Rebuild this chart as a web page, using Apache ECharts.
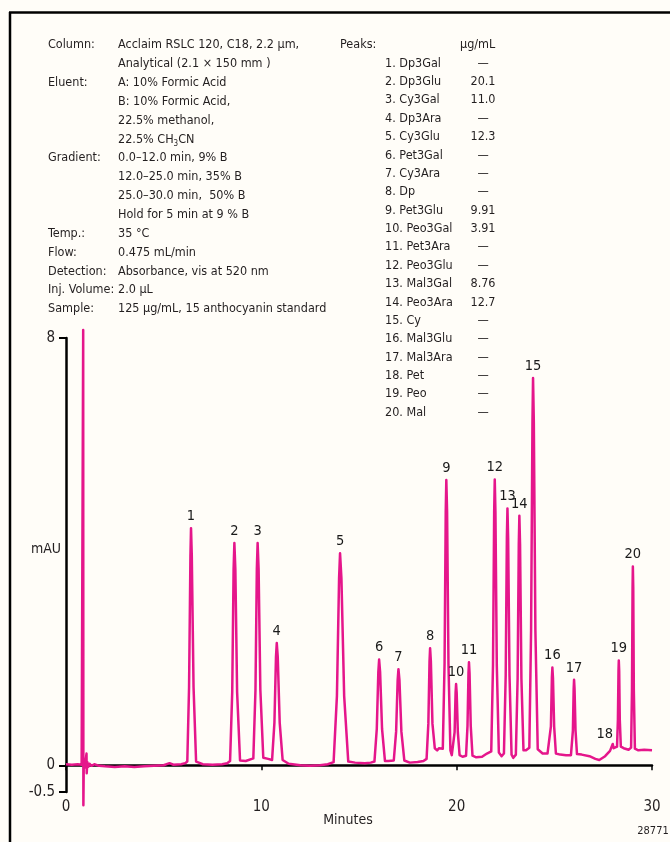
<!DOCTYPE html>
<html>
<head>
<meta charset="utf-8">
<script src="https://cdn.jsdelivr.net/npm/echarts@6/dist/echarts.min.js"></script>
<style>
  html, body { margin: 0; padding: 0; background: #fffdf8; }
  #chart { width: 670px; height: 842px; }
</style>
</head>
<body>
<div id="chart"></div>
<script>
// Chromatographic conditions (left column)
const infoLabels = ['Column:', '', 'Eluent:', '', '', '', 'Gradient:', '', '', '', 'Temp.:', 'Flow:', 'Detection:', 'Inj. Volume:', 'Sample:'];
const infoValues = [
  'Acclaim RSLC 120, C18, 2.2 µm,',
  'Analytical (2.1 × 150 mm )',
  'A: 10% Formic Acid',
  'B: 10% Formic Acid,',
  '22.5% methanol,',
  '22.5% CH{sub|3}CN',
  '0.0–12.0 min, 9% B',
  '12.0–25.0 min, 35% B',
  '25.0–30.0 min,  50% B',
  'Hold for 5 min at 9 % B',
  '35 °C',
  '0.475 mL/min',
  'Absorbance, vis at 520 nm',
  '2.0 µL',
  '125 µg/mL, 15 anthocyanin standard'
];

// Peak table
const peakNames = ['Dp3Gal', 'Dp3Glu', 'Cy3Gal', 'Dp3Ara', 'Cy3Glu', 'Pet3Gal', 'Cy3Ara', 'Dp', 'Pet3Glu', 'Peo3Gal',
  'Pet3Ara', 'Peo3Glu', 'Mal3Gal', 'Peo3Ara', 'Cy', 'Mal3Glu', 'Mal3Ara', 'Pet', 'Peo', 'Mal'];
const peakConc = ['—', '20.1', '11.0', '—', '12.3', '—', '—', '—', '9.91', '3.91',
  '—', '—', '8.76', '12.7', '—', '—', '—', '—', '—', '—'];

// Peak apexes: retention time (min) and absorbance (mAU)
const peakTimes = [6.40, 8.62, 9.81, 10.79, 14.03, 16.03, 17.02, 18.64, 19.47, 19.97,
  20.63, 21.95, 22.60, 23.21, 23.91, 24.90, 26.01, 27.99, 28.30, 29.02];
const peakHeights = [4.44, 4.16, 4.16, 2.29, 3.97, 1.98, 1.80, 2.19, 5.34, 1.52,
  1.93, 5.35, 4.81, 4.67, 7.25, 1.83, 1.60, 0.40, 1.96, 3.72];

// Axis tick values
const xTicks = [0, 10, 20, 30];
const yTicks = [-0.5, 0, 8];

// Detector trace [time (min), signal (mAU)]
const trace = [
  [0, 0.02], [0.3, 0.01], [0.6, 0.02], [0.8, 0.01], [0.87, 0.02], [0.88, 8.15], [0.89, -0.75], [0.91, 0.06],
  [0.95, -0.04], [0.99, 0.05], [1.05, 0.22], [1.06, -0.15], [1.09, 0.06], [1.14, -0.03], [1.2, 0.03],
  [1.3, -0.01], [1.45, 0.02], [1.7, -0.01], [2.0, -0.02], [2.5, -0.03], [3.0, -0.02], [3.5, -0.03],
  [4.0, -0.02], [4.5, -0.01], [5.0, 0.0], [5.3, 0.04], [5.5, 0.01], [5.9, 0.02], [6.1, 0.04],
  // 1
  [6.21, 0.07], [6.30, 1.46], [6.37, 3.92], [6.40, 4.44], [6.44, 3.92], [6.53, 1.46], [6.66, 0.07],
  [6.8, 0.05], [7.0, 0.02], [7.5, 0.01], [8.0, 0.02], [8.25, 0.04],
  // 2
  [8.40, 0.08], [8.51, 1.37], [8.58, 3.67], [8.62, 4.16], [8.67, 3.67], [8.76, 1.37], [8.91, 0.09],
  [9.2, 0.08],
  // 3
  [9.59, 0.13], [9.70, 1.41], [9.77, 3.68], [9.81, 4.16], [9.86, 3.68], [9.95, 1.41], [10.10, 0.14],
  [10.35, 0.12],
  // 4
  [10.55, 0.10], [10.67, 0.80], [10.75, 2.03], [10.79, 2.29], [10.84, 2.03], [10.94, 0.80], [11.09, 0.10],
  [11.4, 0.03], [12.0, 0.0], [12.5, -0.01], [13.0, 0.0], [13.4, 0.02],
  // 5
  [13.70, 0.06], [13.87, 1.30], [13.98, 3.50], [14.03, 3.97], [14.10, 3.50], [14.24, 1.30], [14.45, 0.07],
  [14.8, 0.05], [15.3, 0.04], [15.6, 0.05],
  // 6
  [15.79, 0.07], [15.91, 0.68], [15.99, 1.75], [16.03, 1.98], [16.08, 1.75], [16.18, 0.68], [16.33, 0.08],
  [16.5, 0.08],
  // 7
  [16.78, 0.09], [16.90, 0.63], [16.98, 1.60], [17.02, 1.80], [17.07, 1.60], [17.17, 0.63], [17.32, 0.09],
  [17.6, 0.05], [18.0, 0.06], [18.3, 0.08],
  // 8
  [18.46, 0.12], [18.55, 0.78], [18.61, 1.94], [18.64, 2.19], [18.68, 1.94], [18.76, 0.78], [18.88, 0.32],
  [19.0, 0.28], [19.1, 0.32],
  // 9
  [19.29, 0.31], [19.38, 1.90], [19.44, 4.74], [19.47, 5.34], [19.51, 4.74], [19.58, 1.90], [19.68, 0.28],
  [19.75, 0.19],
  // 10
  [19.82, 0.20], [19.895, 0.62], [19.945, 1.36], [19.97, 1.52], [20.0, 1.36], [20.06, 0.62], [20.15, 0.19],
  [20.3, 0.16],
  // 11
  [20.48, 0.18], [20.555, 0.74], [20.605, 1.72], [20.63, 1.93], [20.66, 1.72], [20.72, 0.74], [20.81, 0.18],
  [21.0, 0.15], [21.3, 0.16], [21.55, 0.22],
  // 12
  [21.77, 0.26], [21.86, 1.87], [21.92, 4.74], [21.95, 5.35], [21.985, 4.74], [22.055, 1.87], [22.16, 0.24],
  [22.3, 0.17],
  // 13
  [22.42, 0.22], [22.51, 1.68], [22.57, 4.26], [22.60, 4.81], [22.635, 4.26], [22.705, 1.68], [22.81, 0.20],
  [22.9, 0.14],
  // 14
  [23.03, 0.20], [23.12, 1.62], [23.18, 4.14], [23.21, 4.67], [23.245, 4.14], [23.315, 1.62], [23.42, 0.28],
  [23.55, 0.28],
  // 15
  [23.72, 0.33], [23.81, 2.53], [23.88, 6.42], [23.91, 7.25], [23.95, 6.42], [24.03, 2.53], [24.15, 0.30],
  [24.4, 0.22], [24.65, 0.22],
  // 16
  [24.75, 0.22], [24.825, 0.73], [24.875, 1.64], [24.90, 1.83], [24.93, 1.64], [24.99, 0.73], [25.08, 0.22],
  [25.3, 0.20], [25.6, 0.19], [25.85, 0.19],
  // 17
  [25.89, 0.21], [25.95, 0.65], [25.99, 1.43], [26.01, 1.60], [26.035, 1.43], [26.085, 0.65], [26.16, 0.21],
  [26.4, 0.20], [26.8, 0.17], [27.1, 0.12], [27.3, 0.10], [27.6, 0.17], [27.85, 0.27],
  // 18
  [27.94, 0.30], [27.99, 0.40], [28.04, 0.32], [28.12, 0.33],
  // 19
  [28.21, 0.35], [28.255, 0.86], [28.285, 1.77], [28.30, 1.96], [28.32, 1.77], [28.35, 0.86], [28.405, 0.35],
  [28.55, 0.32], [28.8, 0.29], [28.9, 0.29],
  // 20
  [28.93, 0.33], [28.975, 1.40], [29.005, 3.32], [29.02, 3.72], [29.04, 3.32], [29.07, 1.40], [29.125, 0.31],
  [29.3, 0.28], [29.6, 0.29], [30.0, 0.28]
];

const FONT = "'Liberation Sans Narrow', 'DejaVu Sans Condensed', 'Roboto', sans-serif";
const INK = '#231f20';
const TRACE = '#e5168b';
const TEXT_SIZE = '12.5px ';

const chart = echarts.init(document.getElementById('chart'), null, { renderer: 'canvas' });

// Text blocks drawn as graphic elements
const graphics = [];
// frame
graphics.push({ type: 'line', shape: { x1: 10, y1: 12, x2: 10, y2: 842 }, style: { stroke: '#000', lineWidth: 2.5 } });
graphics.push({ type: 'line', shape: { x1: 9, y1: 12.5, x2: 670, y2: 12.5 }, style: { stroke: '#000', lineWidth: 2.5 } });

const infoTop = 45, infoStep = 18.86;
infoLabels.forEach((lab, i) => {
  if (lab) {
    graphics.push({ type: 'text', x: 48, y: infoTop + i * infoStep,
      style: { text: lab, font: TEXT_SIZE + FONT, fill: INK, textVerticalAlign: 'middle' } });
  }
});
infoValues.forEach((val, i) => {
  graphics.push({ type: 'text', x: 118, y: infoTop + i * infoStep,
    style: { text: val, font: TEXT_SIZE + FONT, fill: INK, textVerticalAlign: 'middle',
      rich: { sub: { fontSize: 8, fontFamily: FONT, fill: INK, padding: [9, 0, 0, 0] } } } });
});

graphics.push({ type: 'text', x: 340, y: 45, style: { text: 'Peaks:', font: TEXT_SIZE + FONT, fill: INK, textVerticalAlign: 'middle' } });
graphics.push({ type: 'text', x: 460, y: 45, style: { text: 'µg/mL', font: TEXT_SIZE + FONT, fill: INK, textVerticalAlign: 'middle' } });
const tableTop = 63.5, tableStep = 18.37;
peakNames.forEach((name, i) => {
  graphics.push({ type: 'text', x: 385, y: tableTop + i * tableStep,
    style: { text: (i + 1) + '. ' + name, font: TEXT_SIZE + FONT, fill: INK, textVerticalAlign: 'middle' } });
  graphics.push({ type: 'text', x: 483, y: tableTop + i * tableStep,
    style: { text: peakConc[i], font: TEXT_SIZE + FONT, fill: INK, textVerticalAlign: 'middle', textAlign: 'center' } });
});

graphics.push({ type: 'text', x: 46, y: 549, style: { text: 'mAU', font: '14px ' + FONT, fill: INK, textVerticalAlign: 'middle', textAlign: 'center' } });
graphics.push({ type: 'text', x: 348, y: 820, style: { text: 'Minutes', font: '14px ' + FONT, fill: INK, textVerticalAlign: 'middle', textAlign: 'center' } });
graphics.push({ type: 'text', x: 653, y: 831, style: { text: '28771', font: '11px ' + FONT, fill: INK, textVerticalAlign: 'middle', textAlign: 'center' } });

// Peak number labels
const labelData = peakTimes.map((t, i) => {
  const item = { value: [t, peakHeights[i]], name: String(i + 1) };
  if (i === 17) item.label = { offset: [-8, 2] };
  return item;
});

chart.setOption({
  backgroundColor: '#fffdf8',
  animation: false,
  graphic: graphics,
  grid: { left: 66, right: 18, top: 338, bottom: 50, containLabel: false },
  xAxis: {
    type: 'value', min: xTicks[0], max: xTicks[xTicks.length - 1], interval: 10,
    axisLine: { lineStyle: { color: '#000', width: 2.5 } },
    axisTick: { show: true, length: 5, lineStyle: { color: '#000', width: 1.5 } },
    axisLabel: { color: INK, fontSize: 15, fontFamily: FONT, margin: 8 },
    splitLine: { show: false }
  },
  yAxis: {
    type: 'value', min: yTicks[0], max: yTicks[yTicks.length - 1],
    axisLine: { show: true, lineStyle: { color: '#000', width: 2.5 } },
    axisTick: { show: true, length: 7, customValues: yTicks, lineStyle: { color: '#000', width: 2 } },
    axisLabel: { color: INK, fontSize: 15, fontFamily: FONT, margin: 11, customValues: yTicks },
    splitLine: { show: false }
  },
  series: [
    {
      type: 'line', data: trace, showSymbol: false, clip: false, smooth: false,
      lineStyle: { color: TRACE, width: 2.5, join: 'round' }, z: 3
    },
    {
      type: 'scatter', data: labelData, symbolSize: 1, itemStyle: { color: TRACE, opacity: 1 }, z: 4,
      label: { show: true, position: 'top', distance: 4, formatter: p => p.name,
        color: '#1a1a1a', fontSize: 14.5, fontFamily: FONT, opacity: 1 }
    }
  ]
});
</script>
</body>
</html>
